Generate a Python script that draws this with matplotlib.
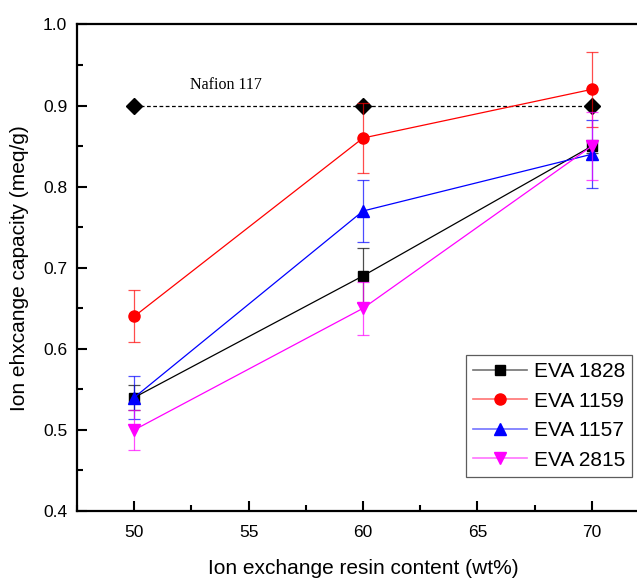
import matplotlib
matplotlib.use("Agg")
import matplotlib.pyplot as plt
from matplotlib.ticker import MultipleLocator, FormatStrFormatter
from matplotlib.lines import Line2D
from matplotlib.colors import to_rgba

plt.rcParams['font.family'] = ['Liberation Sans', 'DejaVu Sans']

resin_content = [50, 60, 70]

series_names = ["EVA 1828", "EVA 1159", "EVA 1157", "EVA 2815"]
eva_1828 = [0.54, 0.69, 0.85]
eva_1828_err = [0.015, 0.034, 0.008]
eva_1159 = [0.64, 0.86, 0.92]
eva_1159_err = [0.032, 0.043, 0.046]
eva_1157 = [0.54, 0.77, 0.84]
eva_1157_err = [0.027, 0.038, 0.042]
eva_2815 = [0.50, 0.65, 0.85]
eva_2815_err = [0.025, 0.033, 0.042]

nafion_value = [0.90, 0.90, 0.90]
nafion_label = "Nafion 117"

fig = plt.figure(figsize=(6.37, 5.79), dpi=100)
ax = fig.add_axes([0.1209, 0.1174, 0.898, 0.8403])

# reference membrane
ax.plot(resin_content, nafion_value, color="black", linestyle=(0, (3, 2)),
        linewidth=0.9, marker="D", markersize=8, zorder=2)
ax.text(54.0, 0.925, nafion_label, family=["Liberation Serif"], fontsize=11.5,
        ha="center", va="center")

styles = [
    ("black", "s", 6.8),
    ("red", "o", 8),
    ("blue", "^", 9),
    ("magenta", "v", 9),
]
values = [eva_1828, eva_1159, eva_1157, eva_2815]
errors = [eva_1828_err, eva_1159_err, eva_1157_err, eva_2815_err]

handles = []
for i, (name, vals, errs, (col, mk, ms)) in enumerate(zip(series_names, values, errors, styles)):
    ax.errorbar(resin_content, vals, yerr=errs, fmt="none", ecolor=col,
                elinewidth=0.9, capsize=4, capthick=0.9, alpha=0.7, zorder=3 + i)
    ax.plot(resin_content, vals, color=col, linewidth=0.9, marker=mk,
            markersize=ms, zorder=3 + i)
    handles.append(Line2D([], [], color=to_rgba(col, 0.55), linewidth=1.2,
                          marker=mk, markersize=ms, markerfacecolor=col,
                          markeredgecolor=col, label=name))

ax.set_xlim(47.5, 72.5)
ax.set_ylim(0.4, 1.0)
ax.xaxis.set_major_locator(MultipleLocator(5))
ax.xaxis.set_minor_locator(MultipleLocator(2.5))
ax.yaxis.set_major_locator(MultipleLocator(0.1))
ax.yaxis.set_minor_locator(MultipleLocator(0.05))
ax.yaxis.set_major_formatter(FormatStrFormatter("%.1f"))

ax.tick_params(which="both", direction="in", width=1.5, labelsize=12.5)
ax.tick_params(which="major", length=7)
ax.tick_params(which="minor", length=4)
ax.tick_params(axis="x", which="major", pad=10)
ax.tick_params(axis="y", which="major", pad=7)
for s in ax.spines.values():
    s.set_linewidth(1.6)

ax.set_xlabel("Ion exchange resin content (wt%)", fontsize=15, labelpad=14)
ax.set_ylabel("Ion ehxcange capacity (meq/g)", fontsize=15, labelpad=10)

leg = ax.legend(handles=handles, loc="upper left",
                bbox_to_anchor=(466 / 637, 1 - 355 / 579),
                bbox_transform=fig.transFigure, fontsize=15,
                frameon=True, fancybox=False, edgecolor="#333333",
                handlelength=2.6, handletextpad=0.3, borderpad=0.35,
                labelspacing=0.5, borderaxespad=0)
leg.get_frame().set_linewidth(0.9)

fig.savefig("out.png", dpi=100)
